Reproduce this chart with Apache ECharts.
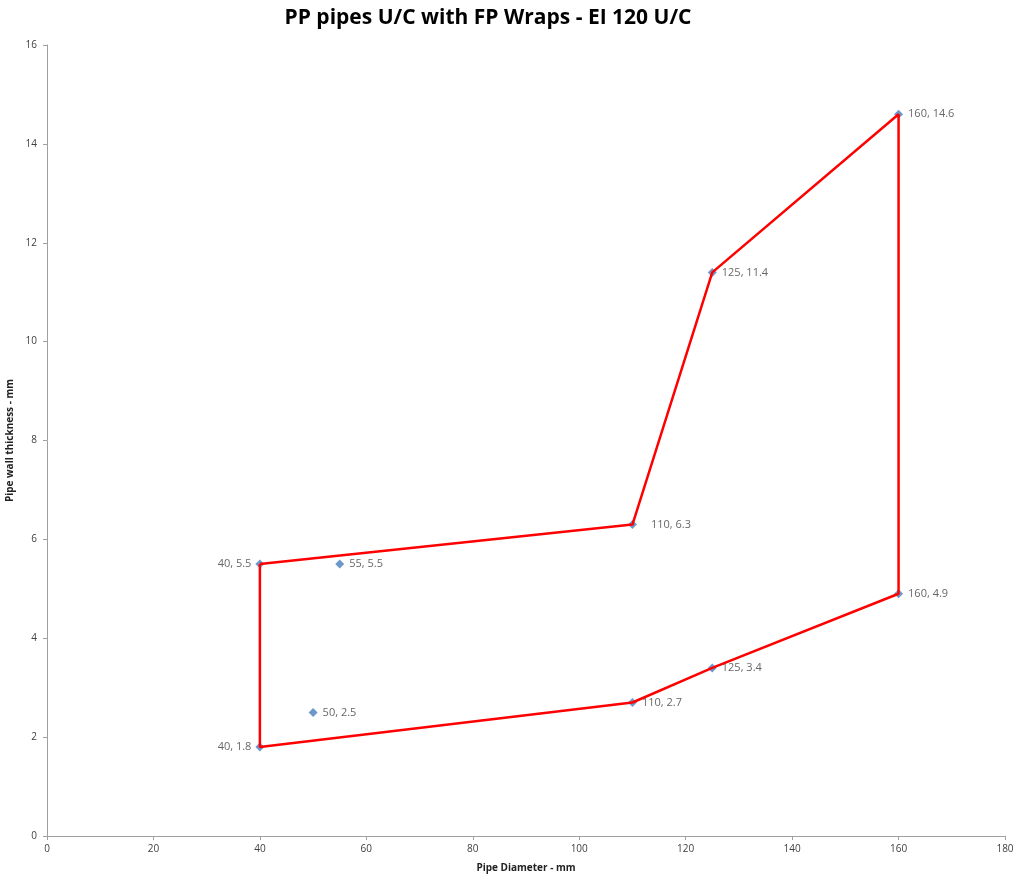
<!DOCTYPE html>
<html>
<head>
<meta charset="utf-8">
<script src="https://cdn.jsdelivr.net/npm/echarts@6/dist/echarts.min.js"></script>
<style>
  html, body { margin: 0; padding: 0; background: #fff; }
  #chart { width: 1017px; height: 881px; }
</style>
</head>
<body>
<div id="chart"></div>
<script>
// Tested pipe sizes: diameter (mm) and wall thickness (mm)
const diameters = [40, 40, 50, 55, 110, 110, 125, 125, 160, 160];
const thickness = [5.5, 1.8, 2.5, 5.5, 6.3, 2.7, 11.4, 3.4, 14.6, 4.9];
// Order of the points that make up the approved-range outline
const outlineOrder = [0, 4, 6, 8, 9, 7, 5, 1, 0];

const xTicks = { min: 0, max: 180, interval: 20 };
const yTicks = { min: 0, max: 16, interval: 2 };

const font = 'Open Sans, Liberation Sans, sans-serif';
const labelColor = '#404040';

const points = diameters.map((d, i) => {
  const item = { value: [d, thickness[i]] };
  if (d === 40) {
    item.label = { position: 'left', distance: 4 };
  } else if (d === 110 && thickness[i] === 6.3) {
    item.label = { distance: 14 };
  }
  return item;
});

const outline = outlineOrder.map(i => [diameters[i], thickness[i]]);

const chart = echarts.init(document.getElementById('chart'), null, { renderer: 'canvas' });
chart.setOption({
  backgroundColor: '#fff',
  animation: false,
  title: {
    text: 'PP pipes U/C with FP Wraps - EI 120 U/C',
    left: 483,
    top: 3,
    textAlign: 'center',
    textStyle: { fontFamily: font, fontWeight: 'bold', fontSize: 21, color: '#000' }
  },
  grid: { left: 47, right: 12, top: 45, bottom: 45, containLabel: false, outerBoundsMode: 'none' },
  xAxis: {
    type: 'value',
    min: xTicks.min, max: xTicks.max, interval: xTicks.interval,
    name: 'Pipe Diameter - mm',
    nameLocation: 'middle',
    nameGap: 27,
    nameTextStyle: { fontFamily: font, fontWeight: 'bold', fontSize: 10, color: '#222' },
    axisLine: { lineStyle: { color: '#a0a0a0', width: 1 } },
    axisTick: { show: true, length: 4, lineStyle: { color: '#a0a0a0' } },
    axisLabel: { fontFamily: font, fontSize: 10, color: labelColor, margin: 8 },
    splitLine: { show: false }
  },
  yAxis: {
    type: 'value',
    min: yTicks.min, max: yTicks.max, interval: yTicks.interval,
    name: 'Pipe wall thickness - mm',
    nameLocation: 'middle',
    nameGap: 30,
    nameTextStyle: { fontFamily: font, fontWeight: 'bold', fontSize: 10, color: '#222', padding: [0, 0, 0, 0] },
    axisLine: { show: true, lineStyle: { color: '#a0a0a0', width: 1 } },
    axisTick: { show: true, length: 4, lineStyle: { color: '#a0a0a0' } },
    axisLabel: { fontFamily: font, fontSize: 10, color: labelColor, margin: 10 },
    splitLine: { show: false }
  },
  series: [
    {
      type: 'scatter',
      data: points,
      symbol: 'diamond',
      symbolSize: 9,
      itemStyle: { color: '#4a7ebb' },
      z: 2,
      label: {
        show: true,
        position: 'right',
        distance: 5,
        fontFamily: font,
        fontSize: 11,
        color: labelColor,
        formatter: p => p.value[0] + ', ' + p.value[1]
      }
    },
    {
      type: 'line',
      data: outline,
      showSymbol: false,
      symbol: 'none',
      lineStyle: { color: '#ff0000', width: 2.5 },
      z: 3,
      silent: true
    }
  ]
});
</script>
</body>
</html>
